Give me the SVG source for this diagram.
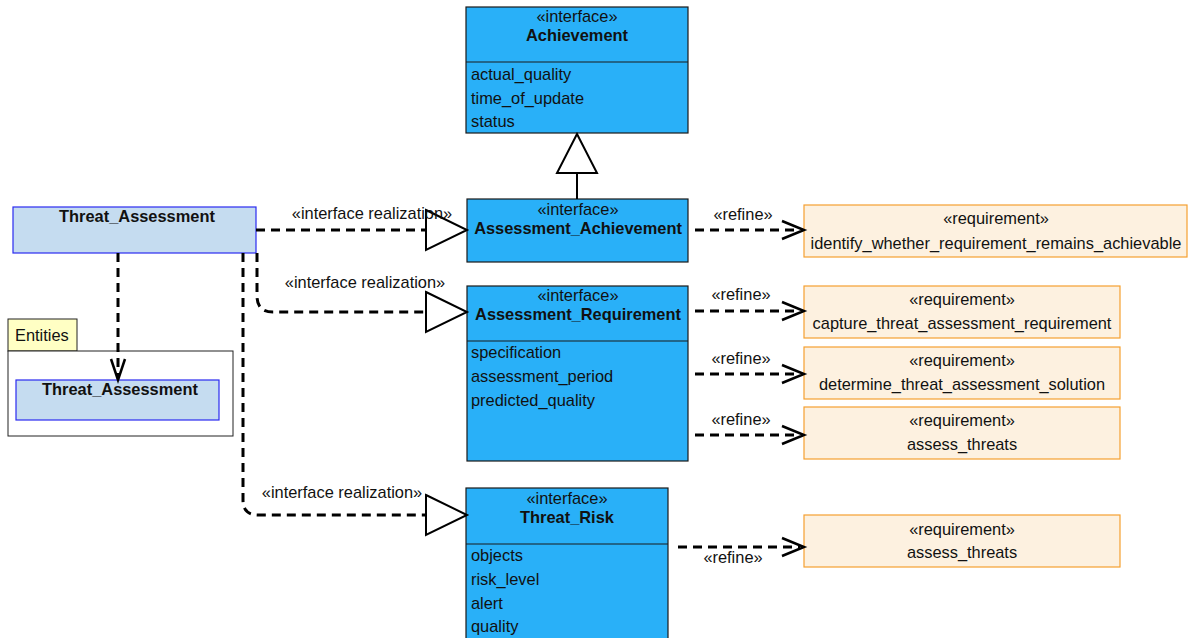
<svg xmlns="http://www.w3.org/2000/svg" width="1188" height="638" viewBox="0 0 1188 638">
  <style>
    text { font-family: "Liberation Sans", Arial, sans-serif; font-size: 16.4px; fill: #111; }
    .b { font-weight: bold; }
    .c { text-anchor: middle; }
    .iface { fill: #29b0f8; stroke: #1a1a1a; stroke-width: 1.2; }
    .div { stroke: #1a1a1a; stroke-width: 1.2; }
    .req { fill: #fdf1e0; stroke: #f5a030; stroke-width: 1.2; }
    .cls { fill: #c5dcf0; stroke: #2a2af0; stroke-width: 1.2; }
    .dash { fill: none; stroke: #000; stroke-width: 3; stroke-dasharray: 9 6; }
    .solid { fill: none; stroke: #000; stroke-width: 2; }
    .tri { fill: #fff; stroke: #000; stroke-width: 2; }
    .open { fill: none; stroke: #000; stroke-width: 2.5; }
  </style>

  <!-- Achievement -->
  <g id="achievement">
    <rect class="iface" x="466" y="7" width="222" height="126"/>
    <line class="div" x1="466" y1="62" x2="688" y2="62"/>
    <text x="577" y="22" class="c">«interface»</text>
    <text x="577" y="41" class="c b">Achievement</text>
    <text x="471" y="80">actual_quality</text>
    <text x="471" y="104">time_of_update</text>
    <text x="471" y="127">status</text>
  </g>

  <!-- Assessment_Achievement -->
  <g id="assessment-achievement">
    <rect class="iface" x="467" y="199" width="221" height="63"/>
    <text x="578" y="215" class="c">«interface»</text>
    <text x="578" y="234" class="c b">Assessment_Achievement</text>
  </g>

  <!-- Assessment_Requirement -->
  <g id="assessment-requirement">
    <rect class="iface" x="467" y="286" width="221" height="175"/>
    <line class="div" x1="467" y1="341" x2="688" y2="341"/>
    <text x="578" y="301" class="c">«interface»</text>
    <text x="578" y="320" class="c b">Assessment_Requirement</text>
    <text x="471" y="358">specification</text>
    <text x="471" y="382">assessment_period</text>
    <text x="471" y="406">predicted_quality</text>
  </g>

  <!-- Threat_Risk -->
  <g id="threat-risk">
    <rect class="iface" x="466" y="488" width="202" height="160"/>
    <line class="div" x1="466" y1="544" x2="668" y2="544"/>
    <text x="567" y="504" class="c">«interface»</text>
    <text x="567" y="523" class="c b">Threat_Risk</text>
    <text x="471" y="561">objects</text>
    <text x="471" y="585">risk_level</text>
    <text x="471" y="609">alert</text>
    <text x="471" y="632">quality</text>
  </g>

  <!-- Threat_Assessment -->
  <g id="threat-assessment">
    <rect class="cls" x="13" y="207" width="243" height="46"/>
    <text x="137" y="222" class="c b">Threat_Assessment</text>
  </g>

  <!-- Entities package -->
  <g id="entities">
    <rect x="8" y="319" width="69" height="32" fill="#ffffc4" stroke="#222" stroke-width="1"/>
    <rect x="8" y="351" width="225" height="85" fill="#fff" stroke="#222" stroke-width="1"/>
    <text x="15" y="341">Entities</text>
    <g id="entities-threat-assessment">
      <rect class="cls" x="16" y="380" width="203" height="40"/>
      <text x="120" y="395" class="c b">Threat_Assessment</text>
    </g>
  </g>

  <!-- Requirements -->
  <g id="req-identify">
    <rect class="req" x="804" y="205" width="383" height="52"/>
    <text x="996" y="224" class="c">«requirement»</text>
    <text x="996" y="249" class="c">identify_whether_requirement_remains_achievable</text>
  </g>
  <g id="req-capture">
    <rect class="req" x="804" y="286" width="316" height="52"/>
    <text x="962" y="305" class="c">«requirement»</text>
    <text x="962" y="329" class="c">capture_threat_assessment_requirement</text>
  </g>
  <g id="req-determine">
    <rect class="req" x="804" y="347" width="316" height="52"/>
    <text x="962" y="366" class="c">«requirement»</text>
    <text x="962" y="390" class="c">determine_threat_assessment_solution</text>
  </g>
  <g id="req-assess-1">
    <rect class="req" x="804" y="407" width="316" height="52"/>
    <text x="962" y="426" class="c">«requirement»</text>
    <text x="962" y="450" class="c">assess_threats</text>
  </g>
  <g id="req-assess-2">
    <rect class="req" x="804" y="515" width="316" height="52"/>
    <text x="962" y="535" class="c">«requirement»</text>
    <text x="962" y="558" class="c">assess_threats</text>
  </g>

  <!-- Connectors -->
  <g id="connectors">
    <!-- generalization Assessment_Achievement -> Achievement -->
    <line class="solid" x1="577" y1="173" x2="577" y2="199"/>
    <polygon class="tri" points="577,134 557,173 597,173"/>

    <!-- interface realizations -->
    <path class="dash" d="M256,230 H426"/>
    <polygon class="tri" points="426,210 467,230 426,250"/>
    <text x="372" y="219" class="c">«interface realization»</text>

    <path class="dash" d="M257,253 V296 Q257,312 273,312 H426"/>
    <polygon class="tri" points="426,292 467,312 426,332"/>
    <text x="365" y="288" class="c">«interface realization»</text>

    <path class="dash" d="M243,253 V500 Q243,515 258,515 H426"/>
    <polygon class="tri" points="426,495 467,515 426,535"/>
    <text x="342" y="498" class="c">«interface realization»</text>

    <!-- dependency into package -->
    <path class="dash" d="M118,253 V378"/>
    <polyline class="open" points="111,359 118,380 125,359"/>

    <!-- refines -->
    <path class="dash" d="M695,230 H800"/>
    <polyline class="open" points="782,221 804,230 782,239"/>
    <text x="743" y="220" class="c">«refine»</text>

    <path class="dash" d="M695,311 H800"/>
    <polyline class="open" points="782,302 804,311 782,320"/>
    <text x="741" y="300" class="c">«refine»</text>

    <path class="dash" d="M695,374 H800"/>
    <polyline class="open" points="782,365 804,374 782,383"/>
    <text x="741" y="364" class="c">«refine»</text>

    <path class="dash" d="M695,435 H800"/>
    <polyline class="open" points="782,426 804,435 782,444"/>
    <text x="741" y="425" class="c">«refine»</text>

    <path class="dash" d="M678,547 H800"/>
    <polyline class="open" points="782,538 804,547 782,556"/>
    <text x="733" y="563" class="c">«refine»</text>
  </g>
</svg>
